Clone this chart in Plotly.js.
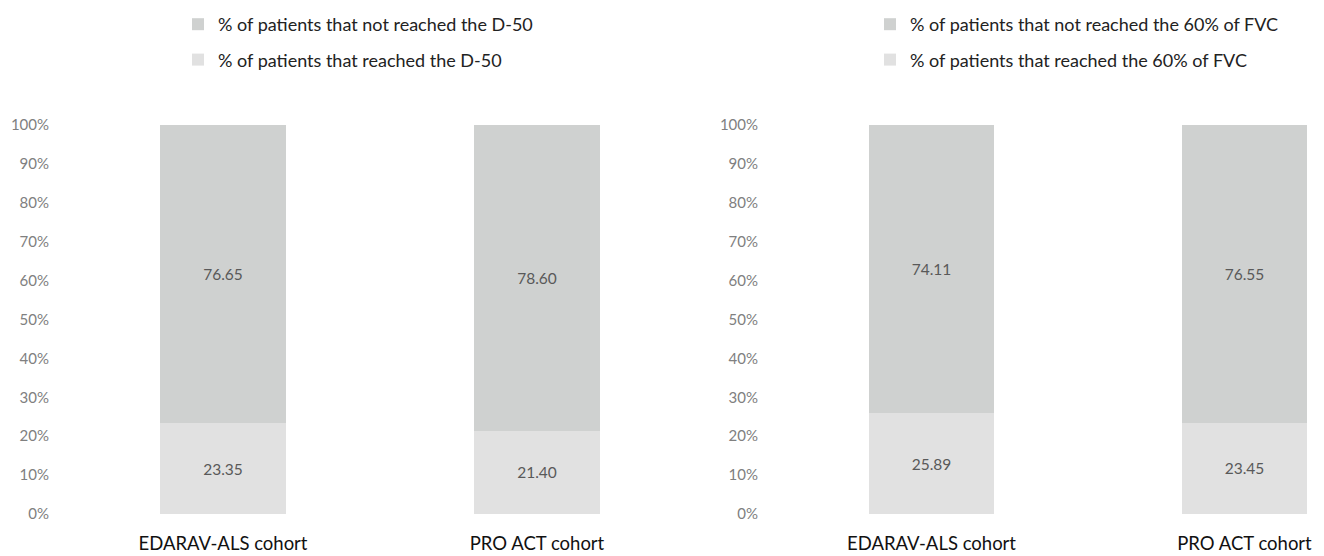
<!DOCTYPE html>
<html>
<head>
<meta charset="utf-8">
<script src="https://cdn.plot.ly/plotly-3.0.1.min.js"></script>
<style>html,body{margin:0;padding:0;background:#fff;}#chart{width:1324px;height:556px;}</style>
</head>
<body>
<div id="chart"></div>
<script>
const categories = ["EDARAV-ALS cohort", "PRO ACT cohort"];
const d50Reached = [23.35, 21.40];
const d50NotReached = [76.65, 78.60];
const fvcReached = [25.89, 23.45];
const fvcNotReached = [74.11, 76.55];
const yTickVals = [0, 10, 20, 30, 40, 50, 60, 70, 80, 90, 100];
const yTickText = ["0%", "10%", "20%", "30%", "40%", "50%", "60%", "70%", "80%", "90%", "100%"];
const seriesNames = [
  "% of patients that reached the D-50",
  "% of patients that not reached the D-50",
  "% of patients that reached the 60% of FVC",
  "% of patients that not reached the 60% of FVC"
];

const DARK = "#cfd1d0", LIGHT = "#e1e1e1";
const FONT = "Lato, 'Open Sans', sans-serif";
const W = 1324, H = 556;

function bar(y, name, color, xa, ya, lg, grp, rank) {
  return {
    type: "bar", x: categories, y: y, name: name,
    marker: {color: color, line: {width: 0}},
    text: y.map(v => v.toFixed(2)), textposition: "inside", insidetextanchor: "middle",
    textfont: {family: FONT, size: 15.5, color: "#595959"},
    xaxis: xa, yaxis: ya, legend: lg, legendgroup: grp, legendrank: rank, width: 0.4,
    hoverinfo: "skip"
  };
}

const data = [
  bar(d50Reached, seriesNames[0], LIGHT, "x", "y", "legend", "a", 2),
  bar(d50NotReached, seriesNames[1], DARK, "x", "y", "legend", "b", 1),
  bar(fvcReached, seriesNames[2], LIGHT, "x2", "y2", "legend2", "c", 2),
  bar(fvcNotReached, seriesNames[3], DARK, "x2", "y2", "legend2", "d", 1)
];

const yDom = [(H - 514) / H, (H - 125) / H];
function yax(anchor) {
  return {
    domain: yDom, range: [0, 100], anchor: anchor,
    tickvals: yTickVals, ticktext: yTickText,
    showgrid: false, zeroline: false, showline: false,
    tickfont: {family: FONT, size: 15, color: "#808080"},
    ticks: "", ticklabelstandoff: 16, fixedrange: true
  };
}
function xax(dom, range, anchor) {
  return {
    domain: dom, range: range, anchor: anchor, type: "category",
    showgrid: false, zeroline: false, showline: false,
    tickfont: {family: FONT, size: 18.5, color: "#111111"},
    ticks: "", ticklabelstandoff: 16, fixedrange: true
  };
}
function leg(xpx) {
  return {
    x: xpx / W, y: 1 - 6 / H, xanchor: "left", yanchor: "top",
    orientation: "v", traceorder: "grouped", tracegroupgap: 9,
    font: {family: FONT, size: 18, color: "#222222"},
    bgcolor: "rgba(0,0,0,0)", itemclick: false, itemdoubleclick: false
  };
}

const layout = {
  width: W, height: H,
  margin: {l: 0, r: 0, t: 0, b: 0},
  paper_bgcolor: "#ffffff", plot_bgcolor: "#ffffff",
  barmode: "stack",
  font: {family: FONT},
  xaxis: xax([66 / W, 694 / W], [-0.5, 1.5], "y"),
  yaxis: yax("x"),
  xaxis2: xax([775 / W, 1], [-0.5, 1.254], "y2"),
  yaxis2: yax("x2"),
  legend: leg(178),
  legend2: leg(870),
  showlegend: true
};

Plotly.newPlot("chart", data, layout, {displayModeBar: false, staticPlot: true});
</script>
</body>
</html>
